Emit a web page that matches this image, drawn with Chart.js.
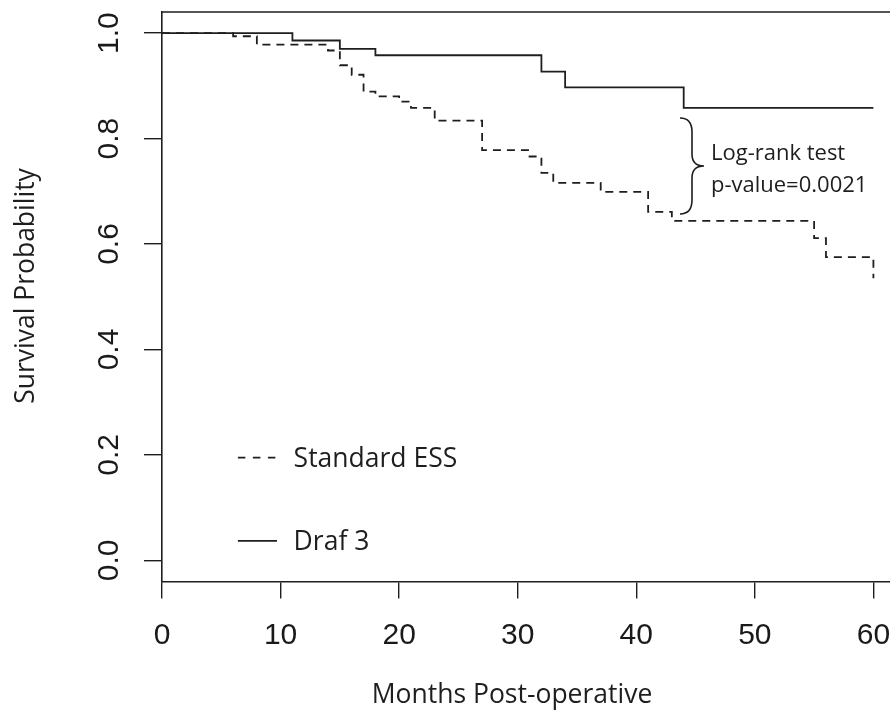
<!DOCTYPE html>
<html>
<head>
<meta charset="utf-8">
<script src="https://cdn.jsdelivr.net/npm/chart.js@4/dist/chart.umd.min.js"></script>
<style>
  html, body { margin: 0; padding: 0; background: #fff; }
  #wrap { width: 890px; height: 717px; }
</style>
</head>
<body>
<div id="wrap"><canvas id="kmChart" width="890" height="717"></canvas></div>
<script>
// axis ticks
const xTicks = [0, 10, 20, 30, 40, 50, 60];
const yTicks = [0, 0.2, 0.4, 0.6, 0.8, 1.0];

// Draf 3 (solid)
const drafMonths = [0, 11, 15, 18, 32, 34, 44, 60];
const drafSurv = [1.0, 0.986, 0.970, 0.958, 0.927, 0.897, 0.858, 0.858];

// Standard ESS (dashed)
const essMonths = [0, 6, 8, 14, 15, 16, 17, 18, 20, 21, 23, 27, 31, 32, 33, 37, 41, 43, 55, 56, 60, 60];
const essSurv = [1.0, 0.994, 0.978, 0.967, 0.939, 0.921, 0.889, 0.880, 0.870, 0.858, 0.834, 0.778,
                 0.766, 0.735, 0.716, 0.699, 0.661, 0.644, 0.611, 0.575, 0.575, 0.535];

const legendLabels = ['Standard ESS', 'Draf 3'];
const noteLines = ['Log-rank test', 'p-value=0.0021'];

const ink = '#1e1e1e';

function toPoints(xs, ys) {
    return xs.map((x, i) => ({ x: x, y: ys[i] }));
}

// Extra drawing: frame top, rotated y labels, titles, legend, log-rank note
const extras = {
    id: 'extras',
    afterDraw(chart) {
        const ctx = chart.ctx;
        const area = chart.chartArea;
        const xs = chart.scales.x;
        const ys = chart.scales.y;
        ctx.save();

        // top of the box
        ctx.strokeStyle = ink;
        ctx.lineWidth = 1.6;
        ctx.beginPath();
        ctx.moveTo(area.left, area.top);
        ctx.lineTo(area.right, area.top);
        ctx.stroke();

        // y tick labels, rotated like R
        ctx.fillStyle = '#1a1a1a';
        ctx.font = '30px "Liberation Sans", Arial, sans-serif';
        ctx.textAlign = 'center';
        ctx.textBaseline = 'alphabetic';
        yTicks.forEach(v => {
            ctx.save();
            ctx.translate(118, ys.getPixelForValue(v));
            ctx.rotate(-Math.PI / 2);
            ctx.fillText(v.toFixed(1), 0, 0);
            ctx.restore();
        });

        // axis titles
        ctx.font = '26.5px "Open Sans", sans-serif';
        ctx.fillStyle = ink;
        ctx.save();
        ctx.translate(34, 286);
        ctx.rotate(-Math.PI / 2);
        ctx.fillText('Survival Probability', 0, 0);
        ctx.restore();
        ctx.fillText('Months Post-operative', 512, 703);

        // legend
        const lx0 = xs.getPixelForValue(6.4);
        const lx1 = xs.getPixelForValue(9.7);
        const tx = xs.getPixelForValue(11.1);
        const rows = [ys.getPixelForValue(0.195), ys.getPixelForValue(0.037)];
        ctx.lineWidth = 1.8;
        ctx.textAlign = 'left';
        rows.forEach((py, i) => {
            ctx.setLineDash(i === 0 ? [7.5, 7.5] : []);
            ctx.beginPath();
            ctx.moveTo(lx0, py);
            ctx.lineTo(lx1, py);
            ctx.stroke();
            ctx.setLineDash([]);
            ctx.fillText(legendLabels[i], tx, py + 9.5);
        });

        // brace + log-rank note
        const xv = xs.getPixelForValue(44.7);
        const top = ys.getPixelForValue(0.839);
        const bot = ys.getPixelForValue(0.657);
        const mid = (top + bot) / 2;
        ctx.lineWidth = 1.6;
        ctx.beginPath();
        ctx.moveTo(xv - 12, top);
        ctx.quadraticCurveTo(xv, top, xv, top + 14);
        ctx.lineTo(xv, mid - 12);
        ctx.quadraticCurveTo(xv, mid, xv + 12, mid);
        ctx.quadraticCurveTo(xv, mid, xv, mid + 12);
        ctx.lineTo(xv, bot - 14);
        ctx.quadraticCurveTo(xv, bot, xv - 12, bot);
        ctx.stroke();

        ctx.font = '22px "Open Sans", sans-serif';
        const nx = xs.getPixelForValue(46.3);
        ctx.fillText(noteLines[0], nx, 160);
        ctx.fillText(noteLines[1], nx, 191.5);

        ctx.restore();
    }
};

const ctx = document.getElementById('kmChart').getContext('2d');
const kmChart = new Chart(ctx, {
    type: 'line',
    data: {
        datasets: [
            {
                label: legendLabels[0],
                data: toPoints(essMonths, essSurv),
                borderColor: ink,
                borderWidth: 1.8,
                borderDash: [8, 6],
                stepped: 'before',
                pointRadius: 0,
                fill: false
            },
            {
                label: legendLabels[1],
                data: toPoints(drafMonths, drafSurv),
                borderColor: ink,
                borderWidth: 1.8,
                stepped: 'before',
                pointRadius: 0,
                fill: false
            }
        ]
    },
    options: {
        responsive: false,
        animation: false,
        devicePixelRatio: 1,
        layout: { padding: { top: 12, left: 0, right: 0, bottom: 0 } },
        plugins: {
            legend: { display: false },
            tooltip: { enabled: false }
        },
        scales: {
            x: {
                type: 'linear',
                min: 0,
                max: 61.4,
                afterBuildTicks: s => { s.ticks = xTicks.map(v => ({ value: v })); },
                afterFit: s => {
                    s.height = 135.5;
                    s.paddingLeft = 0;
                    s.paddingRight = 0;  // let the axis run to the canvas edge
                },
                grid: { drawOnChartArea: false, drawTicks: true, tickLength: 17, color: ink, lineWidth: 1.4 },
                border: { display: true, color: ink, width: 1.6 },
                ticks: {
                    font: { family: '"Liberation Sans", Arial, sans-serif', size: 30 },
                    color: '#1a1a1a',
                    padding: 19,
                    maxRotation: 0,
                    autoSkip: false
                }
            },
            y: {
                type: 'linear',
                min: -0.04,
                max: 1.04,
                afterBuildTicks: s => { s.ticks = yTicks.map(v => ({ value: v })); },
                afterFit: s => {
                    s.width = 162;
                    s.paddingTop = 0;
                    s.paddingBottom = 0;
                },
                grid: { drawOnChartArea: false, drawTicks: true, tickLength: 18, color: ink, lineWidth: 1.4 },
                border: { display: true, color: ink, width: 1.6 },
                ticks: { display: false }
            }
        }
    },
    plugins: [extras]
});
</script>
</body>
</html>
